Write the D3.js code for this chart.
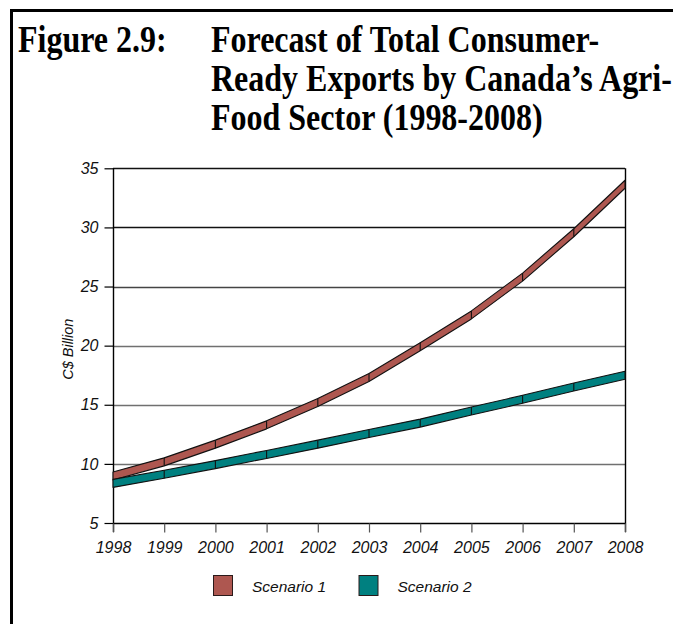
<!DOCTYPE html>
<html>
<head>
<meta charset="utf-8">
<script src="https://cdn.jsdelivr.net/npm/d3@7"></script>
<style>
  html, body { margin: 0; padding: 0; background: #fff; }
  svg { display: block; }
</style>
</head>
<body>
<svg id="chart" width="673" height="624"></svg>
<script>
const years = [1998, 1999, 2000, 2001, 2002, 2003, 2004, 2005, 2006, 2007, 2008];
const scenario1 = [8.97, 10.17, 11.67, 13.3, 15.2, 17.3, 19.9, 22.6, 25.8, 29.55, 33.65];
const scenario2 = [8.35, 9.13, 9.94, 10.8, 11.67, 12.57, 13.45, 14.47, 15.46, 16.5, 17.5];
const yTicks = [5, 10, 15, 20, 25, 30, 35];
const seriesNames = ["Scenario 1", "Scenario 2"];
const seriesColors = ["#AE5750", "#008080"];
const titleLabel = "Figure 2.9:";
const titleLines = ["Forecast of Total Consumer-", "Ready Exports by Canada\u2019s Agri-", "Food Sector (1998-2008)"];
const yAxisTitle = "C$ Billion";

const svg = d3.select("#chart");

// outer frame
svg.append("path")
  .attr("d", "M11.5,700 L11.5,10.5 L700,10.5")
  .attr("fill", "none").attr("stroke", "#000").attr("stroke-width", 3);

// title (tall, condensed serif look)
const tfont = "'Liberation Serif','Times New Roman',serif";
const tScaleY = 1.2;
function titleText(str, tx, ty) {
  svg.append("text")
    .attr("transform", `translate(${tx},${ty}) scale(1,${tScaleY})`)
    .attr("font-family", tfont).attr("font-weight", "bold").attr("font-size", 32)
    .text(str);
}
titleText(titleLabel, 18, 52);
titleLines.forEach((t, i) => titleText(t, 211, 52 + i * 38.8));

const pLeft = 113, pRight = 625, pTop = 168.3, pBottom = 523;
const x = d3.scaleLinear().domain([1998, 2008]).range([pLeft, pRight]);
const y = d3.scaleLinear().domain([5, 35]).range([pBottom, pTop]);

const afont = "Arial, 'Liberation Sans', sans-serif";

// gridlines
svg.append("g").selectAll("line").data(yTicks.filter(v => v > 5)).join("line")
  .attr("x1", pLeft).attr("x2", pRight)
  .attr("y1", d => Math.round(y(d)) + 0.5).attr("y2", d => Math.round(y(d)) + 0.5)
  .attr("stroke", d => d >= 30 ? "#111" : (d === 25 ? "#444" : "#707070")).attr("stroke-width", 1.4);

// right border
svg.append("line").attr("x1", pRight + 0.5).attr("x2", pRight + 0.5)
  .attr("y1", y(35)).attr("y2", pBottom + 9).attr("stroke", "#000").attr("stroke-width", 1.4);

// y axis
const yAxis = d3.axisLeft(y).tickValues(yTicks).tickSize(9).tickPadding(6).tickFormat(d3.format("d"));
const gy = svg.append("g").attr("transform", `translate(${pLeft + 0.5},0)`).call(yAxis);
gy.select(".domain").attr("stroke", "#000").attr("stroke-width", 1.4).attr("d", `M0,${pTop}V${pBottom + 9}`);
gy.selectAll(".tick line").attr("stroke", "#000").attr("stroke-width", 1.2);
gy.selectAll(".tick text").attr("font-family", afont).attr("font-style", "italic")
  .attr("font-size", 16).attr("fill", "#111");

// x axis
const xAxis = d3.axisBottom(x).tickValues(years).tickSize(9).tickPadding(9).tickFormat(d3.format("d"));
const gx = svg.append("g").attr("transform", `translate(0,${pBottom + 0.5})`).call(xAxis);
gx.select(".domain").attr("stroke", "#000").attr("stroke-width", 1.6).attr("d", `M${pLeft},0H${pRight}`);
gx.selectAll(".tick line").attr("stroke", "#555").attr("stroke-width", 1.2);
gx.selectAll(".tick text").attr("font-family", afont).attr("font-style", "italic")
  .attr("font-size", 16).attr("fill", "#111");

// y axis title
svg.append("text")
  .attr("transform", `translate(73,${y(19.7)}) rotate(-90)`)
  .attr("text-anchor", "middle").attr("font-family", afont).attr("font-style", "italic")
  .attr("font-size", 14.5).attr("fill", "#111").text(yAxisTitle);

// ribbons
const half = 4;
const area = d3.area().x(d => x(d[0])).y0(d => y(d[1]) + half).y1(d => y(d[1]) - half);
[scenario1, scenario2].forEach((vals, si) => {
  const pts = years.map((yr, i) => [yr, vals[i]]);
  const g = svg.append("g");
  g.append("path").datum(pts).attr("d", area)
    .attr("fill", seriesColors[si]).attr("stroke", "#111").attr("stroke-width", 1.1)
    .attr("stroke-linejoin", "round");
  g.selectAll("line").data(pts.slice(1, -1)).join("line")
    .attr("x1", d => x(d[0])).attr("x2", d => x(d[0]))
    .attr("y1", d => y(d[1]) - half).attr("y2", d => y(d[1]) + half)
    .attr("stroke", "#111").attr("stroke-width", 1.1);
});

// legend
const legX = [213, 358.5];
seriesNames.forEach((n, i) => {
  svg.append("rect").attr("x", legX[i] + 0.5).attr("y", 575.5).attr("width", 19).attr("height", 20)
    .attr("fill", seriesColors[i]).attr("stroke", "#2a1a1a").attr("stroke-width", 1);
  svg.append("text").attr("x", legX[i] + 39).attr("y", 591.5)
    .attr("font-family", afont).attr("font-style", "italic").attr("font-size", 15.5)
    .attr("fill", "#111").text(n);
});
</script>
</body>
</html>
